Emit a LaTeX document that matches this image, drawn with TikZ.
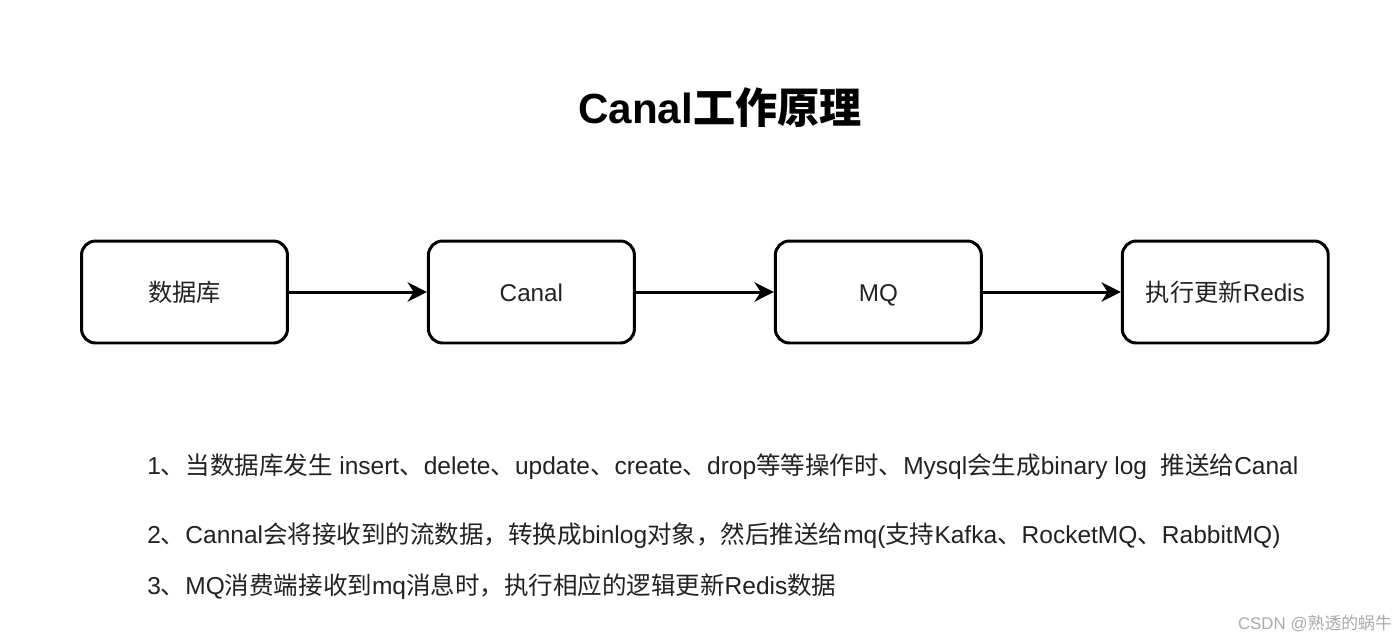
\documentclass[tikz,border=0pt]{standalone}
\usepackage{fontspec}
\setmainfont{Liberation Sans}
\newfontfamily\cjk{Noto Sans CJK SC}
\newcommand{\zh}[1]{{\cjk #1}}
\usetikzlibrary{arrows.meta, positioning}
\definecolor{inkgray}{HTML}{222222}
\definecolor{markgray}{HTML}{AAAAAA}
\tikzset{
  flowbox/.style={rectangle, rounded corners=8pt, draw=black, line width=1.7pt,
                  minimum width=4.12cm, minimum height=2.04cm, align=center,
                  text height=14pt, text depth=3pt,
                  font=\fontsize{13.8}{16}\selectfont, text=inkgray},
  flowarr/.style={-{Stealth[length=11pt, width=11pt, inset=3.5pt]}, line width=1.7pt},
  note/.style={anchor=west, inner sep=0pt, font=\fontsize{13.95}{16}\selectfont, text=inkgray},
}

\begin{document}
\begin{tikzpicture}[x=0.02cm, y=-0.02cm, node distance=2.76cm]
  \useasboundingbox (0,0) rectangle (1400,640);

  \node[font=\fontsize{24}{28}\selectfont\bfseries] (title) at (720,108) {Canal\zh{工作原理}};

  % flow
  \node[flowbox] (db) at (184.5,292) {\zh{数据库}};
  \node[flowbox, right=of db] (canal) {Canal};
  \node[flowbox, right=of canal] (mq) {MQ};
  \node[flowbox, right=of mq] (redis) {\zh{执行更新}Redis};

  \draw[flowarr] (db) -- (canal);
  \draw[flowarr] (canal) -- (mq);
  \draw[flowarr] (mq) -- (redis);

  % notes
  \node[note] (n1) at (147,467) {1\zh{、当数据库发生} insert\zh{、}delete\zh{、}update\zh{、}create\zh{、}drop\zh{等等操作时、}Mysql\zh{会生成}binary log\ \ \zh{推送给}Canal};
  \node[note] (n2) at (147,536) {2\zh{、}Cannal\zh{会将接收到的流数据，转换成}binlog\zh{对象，然后推送给}mq(\zh{支持}Kafka\zh{、}RocketMQ\zh{、}RabbitMQ)};
  \node[note] (n3) at (147,587) {3\zh{、}MQ\zh{消费端接收到}mq\zh{消息时，执行相应的逻辑更新}Redis\zh{数据}};

  \node[font=\fontsize{9.6}{12}\selectfont, text=markgray] (mark) at (1315,624) {CSDN @\zh{熟透的蜗牛}};
\end{tikzpicture}
\end{document}
